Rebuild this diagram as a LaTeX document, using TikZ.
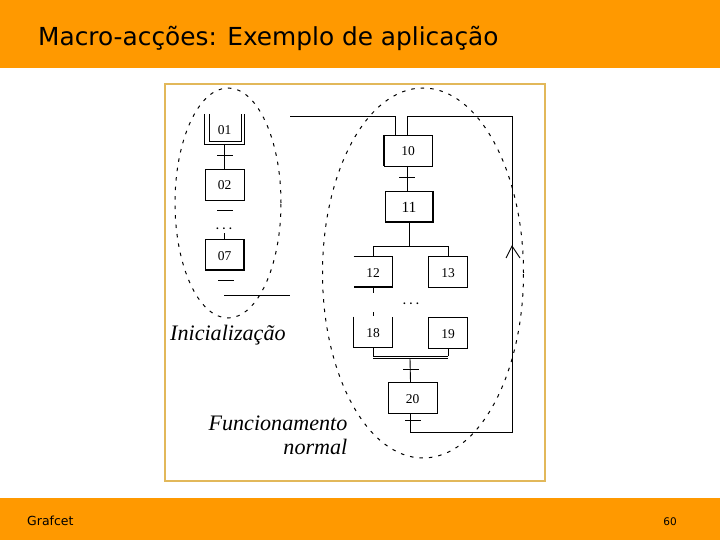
\documentclass[tikz,border=0pt]{standalone}
\usepackage{fontspec}
\setmainfont{DejaVu Sans}
\newfontfamily\labelfont{Liberation Serif}
\usetikzlibrary{
    positioning,
    shapes.geometric,
    arrows.meta
}
\definecolor{bandorange}{HTML}{FF9900}
\definecolor{frametan}{HTML}{E2B85A}
\tikzset{
  stepbox/.style={draw, rectangle, inner sep=0pt, outer sep=0pt, minimum width=39pt,
    minimum height=31pt, line width=0.9pt, text height=11pt, text depth=0pt,
    font=\labelfont\fontsize{13.5}{14}\selectfont},
  openbox/.style={stepbox, draw=none},
  trans/.style={fill=black, rectangle, inner sep=0pt, outer sep=0pt, minimum width=16pt,
    minimum height=1pt},
  wire/.style={line width=0.9pt},
  thickedge/.style={line width=1.8pt},
  region/.style={draw, ellipse, inner sep=0pt, line width=1pt, dash pattern=on 3.5pt off 6pt},
  dotrow/.style={font=\labelfont\bfseries\fontsize{11}{11}\selectfont, inner sep=0pt},
  caption/.style={font=\labelfont\itshape\fontsize{22.1}{23}\selectfont, inner sep=0pt}
}
\begin{document}
\begin{tikzpicture}[x=1pt,y=-1pt]
\useasboundingbox (0,0) rectangle (720,540);
% bands and frame
\fill[bandorange] (0,0) rectangle (720,68);
\fill[bandorange] (0,498) rectangle (720,540);
\draw[frametan, line width=1.1pt] (165,84) rectangle (545,481);
\node[anchor=base west, inner sep=0pt, font=\fontsize{24.8}{26}\selectfont] (title) at (38,45.5) {Macro-acções: Exemplo de aplicação};
\node[anchor=base west, inner sep=0pt, font=\fontsize{12.5}{14}\selectfont] (footer) at (27,525.5) {Grafcet};
\node[anchor=base east, inner sep=0pt, font=\fontsize{10.5}{14}\selectfont] (pagenum) at (677,525.5) {60};
% the two regions
\node[region, minimum width=106pt, minimum height=230pt] (init) at (228,203) {};
\node[region, minimum width=201pt, minimum height=370pt] (normal) at (423,273) {};
% init steps
\node[openbox, minimum width=40pt, minimum height=30pt] (s01) at (224.5,129) {01};
\node[stepbox, minimum height=31pt] (s02) at (224.5,184.5) {02};
\node[stepbox] (s07) at (224.5,254.5) {07};
\node[dotrow] (dotsinit) at (224,229) {. . .};
\node[trans] (t01) at (224.5,156) {};
\node[trans] (t02) at (224.5,211) {};
\node[trans] (t07) at (226,280) {};
\coordinate (in07) at (224.5,233);
\coordinate (outleft) at (224,295);
\coordinate (outright) at (290,295);
\draw[wire] (s01.north west) -- (s01.south west) -- (s01.south east) -- (s01.north east);
\draw[wire] (209,114) -- (209,141) -- (241,141) -- (241,114);
\draw[wire] (s01.south) -- (s02.north);
\draw[wire] (in07) -- (s07.north);
\draw[thickedge] (s07.north east) -- (s07.south east) -- (s07.south west);
\draw[wire] (outleft) -- (outright);
% normal steps
\node[stepbox, minimum width=48pt] (s10) at (408,150.5) {10};
\node[stepbox, minimum width=48pt, text height=12pt, font=\labelfont\fontsize{15.5}{16}\selectfont] (s11) at (409,206.5) {11};
\node[openbox] (s12) at (373,271.5) {12};
\node[stepbox] (s13) at (448,271.5) {13};
\node[openbox] (s18) at (373,332) {18};
\node[stepbox] (s19) at (448,332.5) {19};
\node[stepbox, minimum width=49pt] (s20) at (412.5,397.5) {20};
\node[dotrow] (dotsnormal) at (411,304) {. . .};
\node[trans] (t10) at (407,178) {};
\node[trans] (t18) at (410.5,369) {};
\node[trans] (t20) at (413,420) {};
\coordinate (in10) at (395,135);
\coordinate (back10) at (407,135);
\coordinate (cornerin) at (395,116);
\coordinate (cornerstart) at (290,116);
\coordinate (loopa) at (407,116);
\coordinate (loopb) at (512,116);
\coordinate (loopc) at (512,432);
\coordinate (loopd) at (410,432);
\coordinate (out20) at (410,413);
\coordinate (tip) at (512,246);
\coordinate (wingl) at (506,258);
\coordinate (wingr) at (520,258);
\coordinate (splitin) at (409,246);
\coordinate (splita) at (373,246);
\coordinate (splitb) at (448,246);
\coordinate (joina) at (373,356);
\coordinate (joinb) at (448,356);
\coordinate (joinc) at (373,358.5);
\coordinate (joind) at (448,358.5);
\coordinate (joinout) at (410,358.5);
\coordinate (stub12a) at (373,293);
\coordinate (stub18a) at (373,312);
\coordinate (stub18b) at (373,316);
\draw[wire] (cornerstart) -- (cornerin) -- (in10);
\draw[wire] (back10) -- (loopa) -- (loopb) -- (loopc) -- (loopd) -- (out20);
\draw[wire] (wingl) -- (tip) -- (wingr);
\draw[thickedge] (s10.north west) -- (s10.south west);
\draw[wire] (t10 |- s10.south) -- (t10 |- s11.north);
\draw[thickedge] (s11.north east) -- (s11.south east) -- (s11.south west);
\draw[wire] (s11.south) -- (splitin);
\draw[wire] (splita) -- (splitb);
\draw[wire] (splita) -- (s12.north);
\draw[wire] (splitb) -- (s13.north);
\draw[wire] (s12.north west) -- (s12.north east);
\draw[thickedge] (s12.north east) -- (s12.south east) -- (s12.south west);
\draw[wire] (s12.south) -- (stub12a);
\draw[wire] (stub18a) -- (stub18b);
\draw[wire] (s18.north west) -- (s18.south west) -- (s18.south east) -- (s18.north east);
\draw[wire] (s18.south) -- (joina);
\draw[wire] (s19.south) -- (joinb);
\draw[wire] (joina) -- (joinb);
\draw[wire] (joinc) -- (joind);
\draw[wire] (joinout) -- (t18 |- s20.north);
% captions
\node[caption, anchor=base west] (caption1) at (170,340) {Inicialização};
\node[caption, anchor=base east] (caption2) at (347.5,430.5) {Funcionamento};
\node[caption, anchor=base east] (caption3) at (347.5,454.5) {normal};
\end{tikzpicture}
\end{document}
